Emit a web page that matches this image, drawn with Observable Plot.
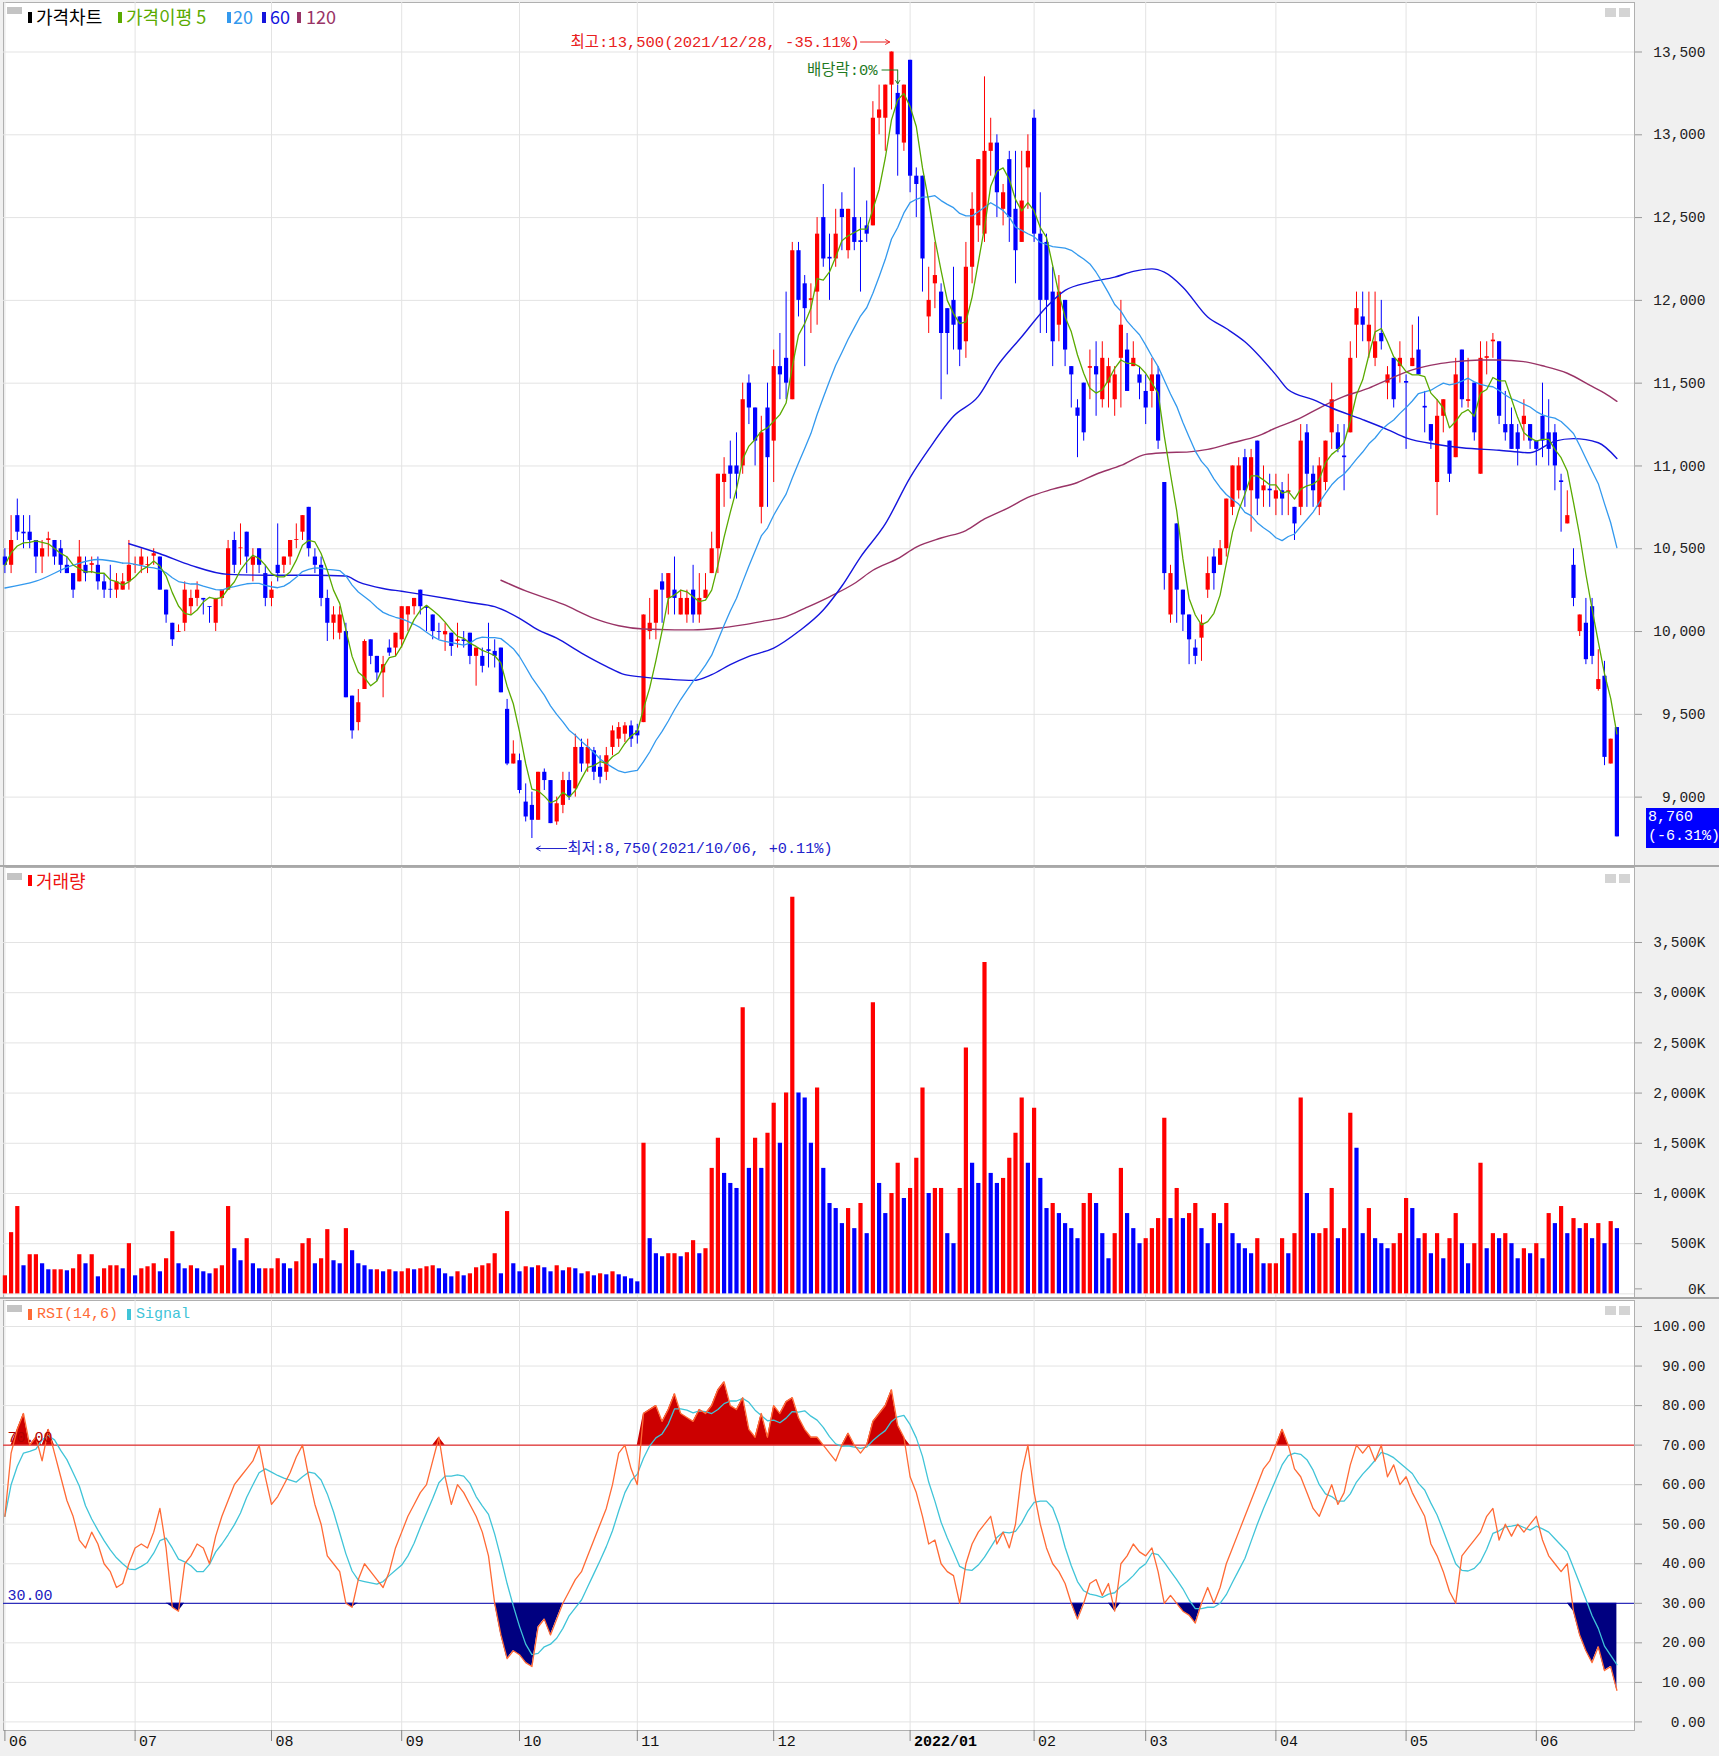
<!DOCTYPE html>
<html><head><meta charset="utf-8">
<script src="https://cdn.jsdelivr.net/npm/d3@7"></script>
<script src="https://cdn.jsdelivr.net/npm/@observablehq/plot@0.6"></script>
<style>
body{margin:0;background:#fff;}
#chart{position:relative;width:1719px;height:1756px;background:#f0f0f0;overflow:hidden;}
.panel{position:absolute;left:0;}
.lg{position:absolute;white-space:nowrap;font-family:"Noto Sans CJK KR",sans-serif;font-size:18px;line-height:20px;}
.mono{font-family:"Liberation Mono","Noto Sans CJK KR",monospace;font-size:15px;}
.bar{position:absolute;width:4px;height:11px;}
.icon{position:absolute;width:15px;height:7px;background:#c4c4c4;}
.btn{position:absolute;width:11px;height:9px;background:#d4d4d4;}
.sep{position:absolute;left:0;width:1719px;height:2px;background:#a8a8a8;}
#last{position:absolute;left:1646px;width:73px;height:40px;background:#0000ff;color:#fff;font-family:"Liberation Mono",monospace;font-size:15px;line-height:19px;padding-left:2px;box-sizing:border-box;}
</style></head>
<body><div id="chart"></div>
<script>
// ---------- data (trading-day index 0 = 2021-06-02 ... 260 = 2022-06-22) ----------
const monthLabels = ["06","07","08","09","10","11","12","2022/01","02","03","04","05","06"];
const monthStart  = [0,21,43,64,83,102,124,146,166,184,205,226,247];

const open = [
10450,10400,10700,10600,10600,10550,10450,10550,10550,10500,10400,10350,10300,10400,10400,10400,10300,10255,10250,10250,10300,
10400,10400,10400,10455,10450,10250,10050,9995,10050,10150,10200,10200,10150,10050,10200,10250,10550,10500,10600,10400,10500,10350,
10200,10400,10400,10450,10550,10600,10750,10450,10400,10200,10050,9990,10000,9610,9450,9650,9950,9850,9750,9900,9900,
9950,10100,10150,10250,10150,10100,10000,9980,9990,9940,9950,9990,9850,9850,9890,9880,9900,9530,9200,
9220,8970,8950,8860,9150,9100,8850,8950,9100,9050,9300,9200,9280,9180,9150,9300,9350,9380,9430,
9400,9450,10000,10050,10300,10200,10250,10100,10100,10250,10100,10200,10350,10500,10900,11000,11000,11000,11500,11350,10750,11350,
11150,11600,11650,11400,12300,12100,12000,12050,12500,12260,12250,12550,12300,12500,12360,12450,12450,13100,13100,13300,13250,12950,
13450,12750,12750,11900,12100,12050,11950,12000,11900,11750,12200,12450,12400,12900,12950,12550,12850,12550,12350,12800,
13100,12400,12350,12050,11850,12000,11600,11350,11500,11590,11600,11400,11500,11400,11650,11700,11600,11550,
11450,11450,11550,10900,10100,10650,10250,10100,9900,9960,10250,10450,10400,10500,10750,10850,11050,10850,11150,10850,10860,
10800,10850,10840,10750,10750,11200,10950,10750,10900,11200,11200,11060,11200,11850,11900,11750,11650,11800,11500,11650,11600,
11510,11600,11700,11360,11250,10900,11300,11150,11050,11700,11390,11500,10950,11650,11750,11750,11250,11250,11200,11250,11250,
11150,11300,11200,11200,10910,10650,10400,10000,10050,10150,9650,9730,9200,9420];
const high = [
10500,10700,10800,10700,10700,10550,10550,10600,10550,10550,10450,10350,10550,10450,10450,10450,10350,10400,10350,10350,10550,
10450,10500,10450,10500,10450,10250,10050,10040,10300,10250,10300,10200,10150,10200,10250,10550,10600,10650,10600,10500,10500,10400,
10300,10650,10450,10550,10650,10700,10750,10500,10450,10250,10150,10150,10050,9610,9650,9950,9950,9850,9850,9950,9990,
10150,10150,10200,10250,10150,10100,10050,10050,9990,10050,10000,9990,9900,9900,10050,9950,9900,9590,9340,
9260,9080,9030,9150,9170,9100,9000,9150,9150,9380,9350,9350,9300,9250,9300,9430,9450,9450,9460,
9440,10100,10200,10250,10350,10350,10450,10250,10250,10400,10350,10350,10600,10950,11050,11150,11200,11500,11550,11350,11300,11500,
11700,11800,12050,12350,12350,12150,12100,12500,12700,12400,12550,12650,12550,12800,12500,12600,13200,13300,13300,13500,13300,13300,
13450,12800,12750,12200,12350,12100,11950,12200,11900,12350,12650,12850,13350,13100,13000,12700,12900,12900,12900,13000,
13150,12650,12400,12200,12150,12000,11600,11400,11500,11700,11750,11750,11650,11600,12000,11800,11750,11600,
11550,11650,11600,10900,10400,10650,10250,10100,9950,10100,10450,10500,10550,10800,11000,11050,11100,11100,11150,11000,10950,
10950,10900,10950,10750,11250,11250,11000,11050,11150,11500,11250,11250,11750,12050,12050,12050,12050,12000,11600,11650,11750,
11550,11850,11900,11450,11250,11400,11400,11150,11650,11700,11650,11500,11750,11750,11800,11750,11450,11350,11250,11400,11250,
11150,11500,11400,11250,10950,10850,10500,10100,10200,10200,9890,9820,9350,9420];
const low = [
10350,10350,10550,10500,10500,10350,10350,10450,10400,10350,10350,10200,10300,10300,10350,10250,10200,10200,10200,10250,10250,
10350,10350,10350,10400,10250,10050,9910,9995,10000,10100,10150,10100,10050,10000,10150,10250,10350,10400,10350,10300,10350,10150,
10150,10300,10350,10400,10500,10550,10450,10350,10150,9940,9950,9950,9600,9350,9400,9650,9800,9700,9600,9850,9850,
9900,10000,10100,10100,10000,9950,9950,9880,9850,9900,9900,9800,9670,9750,9780,9780,9630,9190,9200,
9020,8850,8750,8860,9040,8840,8830,8900,8980,9000,9150,9150,9100,9080,9100,9250,9300,9330,9300,
9320,9450,9950,9950,10050,10100,10100,10100,10050,10050,10050,10200,10350,10350,10750,10800,10800,10950,11250,11000,10650,10750,
10900,11400,11400,11400,11900,11600,11800,11850,12200,12000,12200,12300,12250,12300,12050,12350,12450,13000,12900,13150,12750,12900,
12650,12500,12050,11800,11950,11400,11550,11700,11600,11650,12100,12350,12350,12750,12500,12450,12350,12100,12350,12550,
12350,11800,11800,11600,11750,11600,11350,11050,11150,11400,11300,11350,11350,11300,11350,11450,11600,11400,
11250,11350,11100,10250,10050,10050,10000,9800,9800,9820,10200,10250,10400,10450,10700,10800,10750,10600,10700,10750,10750,
10700,10700,10700,10550,10700,10750,10750,10700,10850,11100,11080,10850,11200,11650,11750,11650,11600,11700,11400,11350,11500,
11100,11600,11550,11200,11100,10700,11200,10900,11050,11350,11350,11150,10950,11550,11650,11250,11150,11100,11000,11150,11100,
11000,11050,11000,10850,10600,10650,10150,9970,9800,9800,9640,9190,9200,8760];
const close = [
10400,10550,10600,10590,10550,10450,10500,10560,10450,10400,10350,10250,10450,10350,10410,10300,10250,10250,10300,10300,10400,
10405,10450,10405,10470,10250,10100,9950,10000,10250,10200,10250,10190,10145,10200,10250,10500,10400,10505,10450,10450,10400,10200,
10250,10350,10450,10550,10555,10700,10500,10400,10200,10050,10100,10100,9600,9400,9570,9940,9850,9750,9800,9870,9990,
10150,10150,10200,10150,10140,10000,9995,10000,9910,9950,9940,9850,9900,9790,9880,9850,9630,9200,9260,
9040,8880,8860,9150,9100,8840,8960,9100,9000,9300,9200,9300,9150,9120,9250,9400,9420,9430,9350,
9370,10100,10050,10250,10250,10350,10200,10200,10200,10100,10200,10250,10500,10950,10950,10950,10950,11400,11350,11150,11200,11050,
11600,11550,11500,12300,12000,11950,12010,12400,12250,12250,12400,12500,12550,12350,12350,12400,13100,13150,13300,13500,13000,13300,
12750,12700,12250,12000,12150,11800,11800,11850,11700,12200,12550,12850,12900,12950,12650,12650,12500,12300,12600,12900,
12400,12000,12000,11750,12050,11700,11550,11300,11200,11600,11550,11650,11600,11550,11850,11450,11650,11500,
11350,11550,11150,10350,10350,10250,10100,9950,9850,10050,10350,10350,10500,10800,11000,11000,10850,11050,10800,10880,10850,
10850,10800,10850,10650,11150,10950,10850,11000,11150,11400,11100,11050,11650,11950,11850,11850,11750,11750,11550,11400,11650,
11500,11650,11550,11350,11150,11300,11400,10950,11550,11400,11400,11200,11650,11660,11760,11300,11200,11100,11100,11300,11150,
11100,11150,11100,11000,10900,10700,10200,10100,9830,9850,9710,9240,9350,8760];
// volume in thousands of shares
const volume = [
180,610,870,280,390,390,300,240,240,240,230,250,390,300,390,170,250,280,280,250,500,
180,250,270,300,220,350,620,300,250,280,250,220,200,250,280,870,450,330,550,300,250,250,
250,350,300,250,320,500,550,300,350,640,330,300,650,430,300,280,240,240,220,240,220,
220,250,240,250,270,280,250,200,170,220,180,200,260,280,300,400,200,820,300,
220,270,260,280,260,220,280,230,260,250,200,220,180,200,190,220,190,170,150,
120,1500,550,400,370,400,400,370,410,530,400,450,1250,1550,1200,1100,1050,2850,1250,1550,1250,1600,
1900,1500,2000,3950,2000,1950,1500,2050,1250,900,850,700,850,650,900,600,2900,1100,800,1000,1300,950,
1050,1350,2050,1000,1050,1050,600,500,1050,2450,1300,1100,3300,1200,1100,1150,1350,1600,1950,1300,
1850,1150,850,900,800,700,650,550,900,1000,900,600,350,600,1250,800,650,500,
550,650,750,1750,750,1050,750,800,900,650,500,800,700,900,600,500,450,400,550,300,300,
300,550,400,600,1950,1000,600,600,650,1050,550,650,1800,1450,600,850,550,500,450,500,600,
950,850,550,600,400,600,350,550,800,500,300,500,1300,450,600,550,600,500,350,450,400,
500,350,800,700,870,600,750,650,700,550,700,500,720,650];
const rsi = [
52,68,74,78,70,72,66,74,68,62,56,52,46,44,48,45,40,38,34,35,40,
44,45,44,48,54,44,29,28,40,42,45,44,40,47,52,56,60,62,64,66,70,62,
55,57,60,63,67,70,62,55,50,42,40,38,30,29,36,40,38,36,34,38,44,
48,52,55,58,60,66,72,62,55,60,58,55,52,48,42,30,22,16,18,
17,15,14,24,26,22,26,30,33,36,38,42,46,50,54,60,68,70,64,
60,78,79,80,76,79,83,78,77,76,79,78,80,84,86,80,79,82,74,72,78,72,
80,78,81,82,77,74,72,72,70,68,66,70,73,70,68,70,76,78,80,84,75,72,
62,58,52,45,46,40,38,37,30,40,45,48,50,52,45,48,44,50,63,70,
58,50,44,40,38,35,30,26,30,35,36,32,35,28,40,42,45,43,
42,44,38,30,32,30,28,27,25,30,34,30,34,40,44,48,52,56,60,64,66,
70,74,70,64,62,58,54,52,56,60,55,58,65,70,68,70,66,70,62,65,60,
62,58,55,52,45,42,38,33,30,42,44,46,48,52,54,46,50,47,50,48,50,
52,46,42,40,38,40,28,22,18,15,19,13,14,8];
// 20-day MA for the first days (history before the window)
const ma20HeadDay = [0,5,11,15,19];
const ma20HeadVal = [10263,10304,10401,10435,10413];
// 60- and 120-day moving averages (day index, price)
const ma60Day = [20,25,30,36,43,50,55,57,61,64,68,72,75,79,83,86,89,93,97,100,103,107,111,114,117,120,124,128,132,135,138,142,146,149,153,157,160,164,168,171,175,179,182,185,187,190,194,197,200,205,207,211,214,219,223,226,231,235,241,246,250,253,257,260];
const ma60Val = [10530,10470,10400,10345,10340,10340,10335,10300,10260,10243,10220,10195,10175,10150,10080,10010,9960,9870,9790,9740,9725,9712,9705,9740,9800,9850,9900,10000,10130,10275,10450,10650,10930,11100,11300,11420,11600,11780,11960,12060,12110,12140,12175,12190,12170,12080,11900,11830,11750,11550,11460,11400,11350,11280,11220,11170,11130,11110,11095,11080,11150,11165,11140,11045];
const ma120Day = [80,84,90,95,99,103,108,111,115,119,122,126,129,133,137,140,144,147,151,155,158,162,165,169,173,176,180,184,187,191,194,198,202,205,209,212,216,220,223,227,231,234,238,241,245,248,252,256,258,260];
const ma120Val = [10310,10245,10165,10080,10035,10015,10010,10010,10020,10040,10060,10090,10140,10210,10290,10370,10440,10510,10565,10610,10680,10750,10810,10860,10900,10950,11003,11070,11080,11085,11100,11140,11180,11230,11290,11350,11420,11470,11520,11580,11615,11630,11640,11640,11630,11605,11560,11480,11440,11390];
const priceTicks = [9000,9500,10000,10500,11000,11500,12000,12500,13000,13500];
const volTicks = [500,1000,1500,2000,2500,3000,3500];
const rsiTicks = [0,10,20,30,40,50,60,70,80,90,100];
const hiIdx = 143, hiText = "최고:13,500(2021/12/28, -35.11%)";
const loIdx = 85,  loText = "최저:8,750(2021/10/06, +0.11%)";
const divIdx = 144, divText = "배당락:0%";
const lastChange = "-6.31%";

// ---------- build ----------
const n = close.length;
const candles = close.map((c, i) => ({i, o: open[i], h: high[i], l: low[i], c, v: volume[i], r: rsi[i]}));
const UP = "#ff0000", DN = "#0000ff";
const cColor = d => d.c >= d.o ? UP : DN;
const vColor = d => (d.i === 0 || d.v >= volume[d.i - 1]) ? UP : DN;
const ma20Head = ma20HeadDay.map((d, k) => ({i: d, v: ma20HeadVal[k]}));
const ma60 = ma60Day.map((d, k) => ({i: d, v: ma60Val[k]}));
const ma120 = ma120Day.map((d, k) => ({i: d, v: ma120Val[k]}));

const FONT = "'Liberation Mono','Noto Sans CJK KR',monospace";
const xDom = [-0.226, 262.84];
const yDom = [8581, 13799];
const pxW = (yDom[1] - yDom[0]) / 864;   // won per pixel in the price pane
const grid = "#e3e3e3";
const common = {
  width: 1719, marginLeft: 3, marginRight: 85,
  x: {domain: xDom, axis: null, label: null},
  color: {type: "identity"},
  style: {background: "transparent", fontFamily: FONT, fontSize: "14.5px", color: "#222", overflow: "visible"}
};
const axisOpts = {anchor: "right", tickSize: 7, tickPadding: 64, textAnchor: "end", stroke: "#999", fill: "#222", label: null};

const hiY = high[hiIdx] + 10 * pxW;
const divY = high[hiIdx] - 18 * pxW;
const loY = low[loIdx] - 10 * pxW;

const p1 = Plot.plot({
  ...common, height: 866, marginTop: 2, marginBottom: 0,
  y: {domain: yDom, axis: null, label: null},
  marks: [
    Plot.frame({fill: "#fff", stroke: "#b0b0b0"}),
    Plot.gridX(monthStart, {stroke: grid, strokeOpacity: 1}),
    Plot.gridY(priceTicks, {stroke: grid, strokeOpacity: 1}),
    Plot.axisY(priceTicks, {...axisOpts, tickFormat: d3.format(",")}),
    Plot.ruleX(candles, {x: "i", y1: "l", y2: "h", stroke: cColor, strokeWidth: 1}),
    Plot.ruleX(candles, {x: "i", y1: "o", y2: "c", stroke: cColor, strokeWidth: 4.2}),
    Plot.line(ma120, {x: "i", y: "v", stroke: "#993366", strokeWidth: 1.4, curve: "monotone-x"}),
    Plot.line(ma60, {x: "i", y: "v", stroke: "#1515dd", strokeWidth: 1.4, curve: "monotone-x"}),
    Plot.line(ma20Head, {x: "i", y: "v", stroke: "#3399ee", strokeWidth: 1.3, curve: "monotone-x"}),
    Plot.lineY(candles, Plot.windowY({k: 20, anchor: "end", strict: true}, {x: "i", y: "c", stroke: "#3399ee", strokeWidth: 1.3})),
    Plot.lineY(candles, Plot.windowY({k: 5, anchor: "end"}, {x: "i", y: "c", stroke: "#5aaa00", strokeWidth: 1.3})),
    // highest price annotation
    Plot.arrow([hiIdx], {x1: d => d - 5, x2: d => d - 0.3, y1: hiY, y2: hiY, stroke: "#e82020", strokeWidth: 1, headLength: 7}),
    Plot.text([hiIdx], {x: d => d - 5, y: hiY, text: [hiText], textAnchor: "end", dx: -1, fill: "#e82020", fontSize: 15.5, fontFamily: FONT}),
    // ex-dividend marker
    Plot.link([divIdx], {x1: d => d - 2.6, x2: d => d, y1: divY, y2: divY, stroke: "#1f7a1f", strokeWidth: 1}),
    Plot.arrow([divIdx], {x1: d => d, x2: d => d, y1: divY, y2: divY - 14 * pxW, stroke: "#1f7a1f", strokeWidth: 1, headLength: 6}),
    Plot.text([divIdx], {x: d => d - 2.6, y: divY, text: [divText], textAnchor: "end", dx: -4, fill: "#1f7a1f", fontSize: 15.5, fontFamily: FONT}),
    // lowest price annotation
    Plot.arrow([loIdx], {x1: d => d + 5.6, x2: d => d + 0.7, y1: loY, y2: loY, stroke: "#2222cc", strokeWidth: 1, headLength: 7}),
    Plot.text([loIdx], {x: d => d + 5.6, y: loY, text: [loText], textAnchor: "start", dx: 1, fill: "#2222cc", fontSize: 15.2, fontFamily: FONT})
  ]
});

const p2 = Plot.plot({
  ...common, height: 432, marginTop: 1, marginBottom: 0,
  y: {domain: [-46, 4247], axis: null, label: null},
  marks: [
    Plot.frame({fill: "#fff", stroke: "#b0b0b0"}),
    Plot.gridX(monthStart, {stroke: grid, strokeOpacity: 1}),
    Plot.gridY([0, ...volTicks], {stroke: grid, strokeOpacity: 1}),
    Plot.axisY(volTicks, {...axisOpts, tickFormat: d => d3.format(",")(d) + "K"}),
    Plot.axisY([0], {...axisOpts, tickFormat: d => d + "K", dy: -5}),
    Plot.ruleX(candles, {x: "i", y1: 0, y2: "v", stroke: vColor, strokeWidth: 4.2})
  ]
});

const p3 = Plot.plot({
  ...common, height: 458, marginTop: 2, marginBottom: 26,
  y: {domain: [-2.17, 106.58], axis: null, label: null},
  marks: [
    Plot.frame({fill: "#fff", stroke: "#b0b0b0"}),
    Plot.gridX(monthStart, {stroke: grid, strokeOpacity: 1}),
    Plot.gridY(rsiTicks, {stroke: grid, strokeOpacity: 1}),
    Plot.axisY(rsiTicks, {...axisOpts, tickFormat: d3.format(".2f")}),
    Plot.axisX(monthStart, {anchor: "bottom", tickSize: 11, tickFormat: () => "", stroke: "#888", label: null}),
    Plot.text(monthStart, {x: d => d, frameAnchor: "bottom", text: monthLabels, filter: (d, k) => monthLabels[k] !== "2022/01", textAnchor: "start", dx: 4, dy: 15, fill: "#111", fontSize: 15, fontFamily: FONT}),
    Plot.text(monthStart, {x: d => d, frameAnchor: "bottom", text: monthLabels, filter: (d, k) => monthLabels[k] === "2022/01", textAnchor: "start", dx: 4, dy: 15, fill: "#000", fontSize: 15, fontWeight: "bold", fontFamily: FONT}),
    Plot.areaY(candles, {x: "i", y1: 70, y2: d => Math.max(d.r, 70), fill: "#cc0000"}),
    Plot.areaY(candles, {x: "i", y1: 30, y2: d => Math.min(d.r, 30), fill: "#000080"}),
    Plot.ruleY([70], {stroke: "#e00000"}),
    Plot.ruleY([30], {stroke: "#0000b0"}),
    Plot.lineY(candles, Plot.windowY({k: 6, anchor: "end"}, {x: "i", y: "r", stroke: "#40c4d8", strokeWidth: 1.3})),
    Plot.lineY(candles, {x: "i", y: "r", stroke: "#ff6a35", strokeWidth: 1.3}),
    Plot.text([70], {y: d => d, frameAnchor: "left", text: d => d3.format(".2f")(d), dx: 4, dy: -8, textAnchor: "start", fill: "#b00000", fontSize: 15, fontFamily: FONT}),
    Plot.text([30], {y: d => d, frameAnchor: "left", text: d => d3.format(".2f")(d), dx: 4, dy: -8, textAnchor: "start", fill: "#2020c0", fontSize: 15, fontFamily: FONT})
  ]
});

const chart = document.getElementById("chart");
function place(el, top) { const w = document.createElement("div"); w.className = "panel"; w.style.top = top + "px"; w.appendChild(el); chart.appendChild(w); }
place(p1, 0); place(p2, 866); place(p3, 1298);

[865, 1297].forEach(t => { const s = document.createElement("div"); s.className = "sep"; s.style.top = t + "px"; chart.appendChild(s); });

function add(html) { chart.insertAdjacentHTML("beforeend", html); }
function panelDecor(top) {
  add(`<div class="icon" style="left:7px;top:${top + 7}px"></div>`);
  add(`<div class="btn" style="left:1605px;top:${top + 8}px"></div><div class="btn" style="left:1619px;top:${top + 8}px"></div>`);
}
panelDecor(0); panelDecor(866); panelDecor(1298);
add(`<div class="bar" style="left:28px;top:12px;background:#000"></div><div class="lg" style="left:36px;top:6px;color:#000">가격차트</div>`);
add(`<div class="bar" style="left:118px;top:12px;background:#5aaa00"></div><div class="lg" style="left:126px;top:6px;color:#5aaa00">가격이평 5</div>`);
add(`<div class="bar" style="left:227px;top:12px;background:#3399ee"></div><div class="lg" style="left:233px;top:6px;color:#3399ee">20</div>`);
add(`<div class="bar" style="left:262px;top:12px;background:#1515dd"></div><div class="lg" style="left:270px;top:6px;color:#1515dd">60</div>`);
add(`<div class="bar" style="left:297px;top:12px;background:#993366"></div><div class="lg" style="left:306px;top:6px;color:#993366">120</div>`);
add(`<div class="bar" style="left:28px;top:${866 + 9}px;background:#ff0000"></div><div class="lg" style="left:36px;top:${866 + 4}px;color:#ee1111">거래량</div>`);
add(`<div class="bar" style="left:28px;top:${1298 + 11}px;background:#ff6a35"></div><div class="lg mono" style="left:37px;top:${1298 + 7}px;color:#ff6a35">RSI(14,6)</div>`);
add(`<div class="bar" style="left:127px;top:${1298 + 11}px;background:#40c4d8"></div><div class="lg mono" style="left:136px;top:${1298 + 7}px;color:#40c4d8">Signal</div>`);

const yLast = p1.scale("y").apply(close[n - 1]);
add(`<div id="last" style="top:${yLast - 28}px">${d3.format(",")(close[n - 1])}<br>(${lastChange})</div>`);
</script>
</body></html>
